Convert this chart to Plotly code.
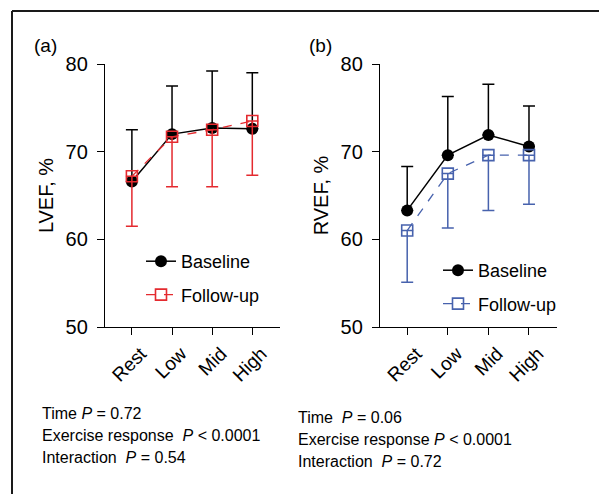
import plotly.graph_objects as go

categories = ["Rest", "Low", "Mid", "High"]

lvef_baseline = [66.6, 72.0, 72.7, 72.6]
lvef_baseline_sd = [5.9, 5.5, 6.5, 6.4]
lvef_followup = [67.2, 71.7, 72.5, 73.5]
lvef_followup_sd = [5.7, 5.7, 6.5, 6.2]

rvef_baseline = [63.3, 69.6, 71.9, 70.6]
rvef_baseline_sd = [5.0, 6.7, 5.8, 4.6]
rvef_followup = [61.0, 67.5, 69.6, 69.6]
rvef_followup_sd = [5.9, 6.2, 6.3, 5.6]

y_ticks = [50, 60, 70, 80]
panel_labels = ["(a)", "(b)"]
y_titles = ["LVEF, %", "RVEF, %"]
stats_left = ["Time <i>P</i> = 0.72", "Exercise response  <i>P</i> < 0.0001", "Interaction  <i>P</i> = 0.54"]
stats_right = ["Time  <i>P</i> = 0.06", "Exercise response <i>P</i> < 0.0001", "Interaction  <i>P</i> = 0.72"]

RED = "#e42a2f"
BLUE = "#4762ad"
FONT = "Liberation Sans, Arial, Helvetica, sans-serif"
W, H = 599, 494

x = list(range(len(categories)))
fig = go.Figure()

def add_panel(xa, ya, legend, base, base_sd, fol, fol_sd, col):
    fig.add_trace(go.Scatter(
        x=x, y=base, xaxis=xa, yaxis=ya, mode="lines+markers", name="Baseline",
        legend=legend, legendgroup=legend + "b",
        line=dict(color="black", width=1.5),
        marker=dict(symbol="circle", size=12, color="black"),
        error_y=dict(type="data", symmetric=False, array=base_sd, arrayminus=[0] * 4,
                     color="black", thickness=1.5, width=6),
    ))
    fig.add_trace(go.Scatter(
        x=x, y=fol, xaxis=xa, yaxis=ya, mode="lines+markers", name="Follow-up",
        legend=legend, legendgroup=legend + "f",
        line=dict(color=col, width=1.3, dash="dash"),
        marker=dict(symbol="square-open", size=11, color=col, line=dict(width=1.6, color=col)),
        error_y=dict(type="data", symmetric=False, array=[0] * 4, arrayminus=fol_sd,
                     color=col, thickness=1.5, width=6),
    ))

add_panel("x", "y", "legend", lvef_baseline, lvef_baseline_sd, lvef_followup, lvef_followup_sd, RED)
add_panel("x2", "y2", "legend2", rvef_baseline, rvef_baseline_sd, rvef_followup, rvef_followup_sd, BLUE)

ydom = [1 - 327 / H, 1 - 64 / H]
xcommon = dict(range=[-0.67, 3.69], tickmode="array", tickvals=x, ticktext=categories,
               tickangle=-45, showline=True, linecolor="black", linewidth=1.3,
               ticks="outside", ticklen=7, tickcolor="black", tickwidth=1.3,
               ticklabelshift=9, ticklabelstandoff=0,
               showgrid=False, zeroline=False, automargin=False,
               tickfont=dict(size=19, color="black"))
ycommon = dict(range=[50, 80], tickmode="array", tickvals=y_ticks, showline=True,
               linecolor="black", linewidth=1.3, ticks="outside", ticklen=7,
               tickcolor="black", tickwidth=1.3, showgrid=False, zeroline=False,
               ticklabelstandoff=5,
               automargin=False, tickfont=dict(size=20, color="black"), domain=ydom,
               title=dict(font=dict(size=20, color="black"), standoff=6))

fig.update_layout(
    width=W, height=H, margin=dict(l=0, r=0, t=0, b=0, pad=0, autoexpand=False),
    paper_bgcolor="white", plot_bgcolor="rgba(0,0,0,0)",
    font=dict(family=FONT, color="black"),
    xaxis=dict(domain=[105 / W, 280 / W], anchor="y", **xcommon),
    yaxis=dict(anchor="x", **ycommon),
    xaxis2=dict(domain=[380 / W, 557 / W], anchor="y2", **xcommon),
    yaxis2=dict(anchor="x2", **ycommon),
    legend=dict(x=141 / W, y=1 - 243 / H, xanchor="left", yanchor="top",
                bgcolor="rgba(0,0,0,0)", font=dict(size=18), tracegroupgap=7,
                itemwidth=30, traceorder="grouped"),
    legend2=dict(x=438 / W, y=1 - 252 / H, xanchor="left", yanchor="top",
                 bgcolor="rgba(0,0,0,0)", font=dict(size=18), tracegroupgap=7,
                 itemwidth=30, traceorder="grouped"),
)
fig.layout.yaxis.title.text = y_titles[0]
fig.layout.yaxis2.title.text = y_titles[1]

fig.add_annotation(text=panel_labels[0], xref="paper", yref="paper", x=32 / W, y=1 - 45 / H,
                   xanchor="left", yanchor="middle", showarrow=False, font=dict(size=19))
fig.add_annotation(text=panel_labels[1], xref="paper", yref="paper", x=307 / W, y=1 - 45 / H,
                   xanchor="left", yanchor="middle", showarrow=False, font=dict(size=19))

for i, t in enumerate(stats_left):
    fig.add_annotation(text=t, xref="paper", yref="paper", x=40 / W, y=1 - (413 + 22 * i) / H,
                       xanchor="left", yanchor="middle", showarrow=False, font=dict(size=16))
for i, t in enumerate(stats_right):
    fig.add_annotation(text=t, xref="paper", yref="paper", x=296 / W, y=1 - (417 + 22 * i) / H,
                       xanchor="left", yanchor="middle", showarrow=False, font=dict(size=16))

fig.add_shape(type="line", xref="paper", yref="paper", x0=12 / W, x1=12 / W, y0=0, y1=1 - 11 / H,
              line=dict(color="#1a1a1a", width=2))
fig.add_shape(type="line", xref="paper", yref="paper", x0=12 / W, x1=1, y0=1 - 11 / H, y1=1 - 11 / H,
              line=dict(color="#1a1a1a", width=2))

fig.write_html("out.html", config={"displayModeBar": False},
               post_script="document.body.style.margin='0';document.body.style.overflow='hidden';")
